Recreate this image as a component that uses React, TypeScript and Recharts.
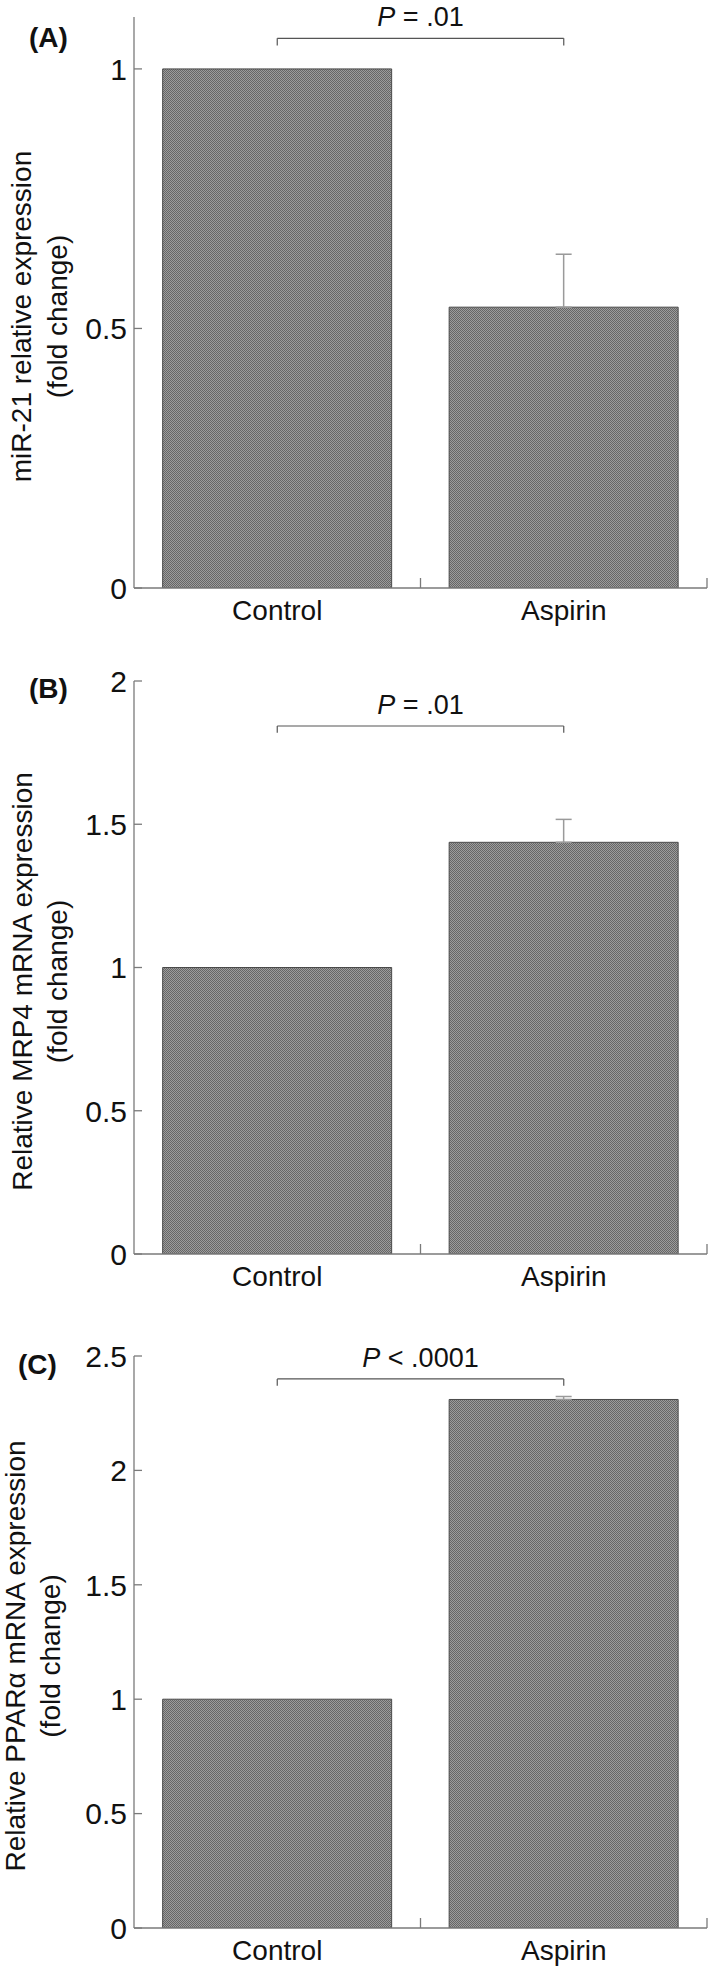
import React from 'react';
import { BarChart, Bar, XAxis, YAxis, ErrorBar, ReferenceLine } from 'recharts';

// categories shared by all three panels
const categories = ['Control', 'Aspirin'];

// (A) miR-21
const mir21Values = [1, 0.541];
const mir21Errors = [null, 0.102];
const mir21Ticks = [0, 0.5, 1];

// (B) MRP4 mRNA
const mrp4Values = [1, 1.437];
const mrp4Errors = [null, 0.08];
const mrp4Ticks = [0, 0.5, 1, 1.5, 2];

// (C) PPARα mRNA
const pparValues = [1, 2.31];
const pparErrors = [null, 0.013];
const pparTicks = [0, 0.5, 1, 1.5, 2, 2.5];

const FONT = '"Liberation Sans", Arial, Helvetica, sans-serif';
const AXIS = '#7a7a7a';
const INK = '#111';

const PAGE_W = 709;
const PLOT_LEFT = 134;
const PLOT_RIGHT = 707;
const YAXIS_W = 60;
const XAXIS_H = 40;
const HALF_BAND = (PLOT_RIGHT - PLOT_LEFT) / categories.length / 2;

const makeRows = (values: number[], errors: (number | null)[]) =>
  categories.map((name, i) => ({
    name,
    value: values[i],
    err: errors[i] == null ? null : [0, errors[i]],
  }));

const panels = [
  {
    letter: '(A)',
    letterX: 29,
    letterY: 47,
    top: 0,
    height: 640,
    plotTop: 17,
    plotBottom: 588,
    rows: makeRows(mir21Values, mir21Errors),
    ticks: mir21Ticks,
    yMax: 1.1,
    bracket: 1.059,
    drop: 0.014,
    pText: '= .01',
    yLabel: ['miR-21 relative expression', '(fold change)'],
    labelX: [31, 67],
  },
  {
    letter: '(B)',
    letterX: 29,
    letterY: 698,
    top: 640,
    height: 670,
    plotTop: 41,
    plotBottom: 614,
    rows: makeRows(mrp4Values, mrp4Errors),
    ticks: mrp4Ticks,
    yMax: 2,
    bracket: 1.843,
    drop: 0.024,
    pText: '= .01',
    yLabel: ['Relative MRP4 mRNA expression', '(fold change)'],
    labelX: [32, 67],
  },
  {
    letter: '(C)',
    letterX: 18,
    letterY: 1374,
    top: 1310,
    height: 657,
    plotTop: 46,
    plotBottom: 618,
    rows: makeRows(pparValues, pparErrors),
    ticks: pparTicks,
    yMax: 2.5,
    bracket: 2.4,
    drop: 0.03,
    pText: '< .0001',
    yLabel: ['Relative PPARα mRNA expression', '(fold change)'],
    labelX: [25, 60],
  },
];

const YTick = (props: any) => {
  const { x, y, payload } = props;
  return (
    <g>
      <line x1={x} x2={x + 8} y1={y} y2={y} stroke={AXIS} strokeWidth={1.3} />
      <text x={x - 7} y={y} dy="0.36em" textAnchor="end" fontSize={30} fontFamily={FONT} fill={INK}>
        {String(payload.value)}
      </text>
    </g>
  );
};

const XTick = (props: any) => {
  const { x, y, payload } = props;
  return (
    <g>
      <line x1={x + HALF_BAND} x2={x + HALF_BAND} y1={y} y2={y - 10} stroke={AXIS} strokeWidth={1.3} />
      <text x={x} y={y + 32} textAnchor="middle" fontSize={28} fontFamily={FONT} fill={INK}>
        {payload.value}
      </text>
    </g>
  );
};

const PLabel = (props: any) => {
  const { viewBox, text } = props;
  if (!viewBox) return null;
  const cx = viewBox.x + viewBox.width / 2;
  return (
    <text x={cx} y={viewBox.y - 12} textAnchor="middle" fontSize={27} fontFamily={FONT} fill={INK}>
      <tspan fontStyle="italic">P</tspan> {text}
    </text>
  );
};

const YLabel = (props: any) => {
  const { viewBox, lines, xs } = props;
  if (!viewBox) return null;
  const cy = viewBox.y + viewBox.height / 2 + 14;
  return (
    <g>
      {lines.map((line: string, i: number) => (
        <text
          key={line}
          x={xs[i]}
          y={cy}
          transform={`rotate(-90 ${xs[i]} ${cy})`}
          textAnchor="middle"
          fontSize={28}
          fontFamily={FONT}
          fill={INK}
        >
          {line}
        </text>
      ))}
    </g>
  );
};

function Panel({ p }: { p: (typeof panels)[number] }) {
  const bracketStroke = { stroke: '#555', strokeWidth: 1.2 };
  return (
    <div style={{ position: 'absolute', left: 0, top: p.top }}>
      <BarChart
        width={PAGE_W}
        height={p.height}
        data={p.rows}
        barCategoryGap="10%"
        margin={{
          top: p.plotTop,
          bottom: p.height - p.plotBottom - XAXIS_H,
          left: PLOT_LEFT - YAXIS_W,
          right: PAGE_W - PLOT_RIGHT,
        }}
      >
        <XAxis
          dataKey="name"
          height={XAXIS_H}
          axisLine={{ stroke: AXIS, strokeWidth: 1.3 }}
          tickLine={false}
          tickSize={0}
          tickMargin={0}
          tick={<XTick />}
          interval={0}
        />
        <YAxis
          width={YAXIS_W}
          domain={[0, p.yMax]}
          ticks={p.ticks}
          allowDataOverflow
          axisLine={{ stroke: AXIS, strokeWidth: 1.3 }}
          tickLine={false}
          tickSize={0}
          tickMargin={0}
          tick={<YTick />}
          label={(lp: any) => <YLabel {...lp} lines={p.yLabel} xs={p.labelX} />}
        />
        <Bar dataKey="value" fill="url(#grayCheck)" stroke="#4a4a4a" strokeWidth={1} isAnimationActive={false}>
          <ErrorBar dataKey="err" direction="y" width={8} stroke="#9a9a9a" strokeWidth={1.5} isAnimationActive={false} />
        </Bar>
        <ReferenceLine
          segment={[
            { x: categories[0], y: p.bracket },
            { x: categories[1], y: p.bracket },
          ]}
          {...bracketStroke}
          label={(lp: any) => <PLabel {...lp} text={p.pText} />}
        />
        <ReferenceLine
          segment={[
            { x: categories[0], y: p.bracket },
            { x: categories[0], y: p.bracket - p.drop },
          ]}
          {...bracketStroke}
        />
        <ReferenceLine
          segment={[
            { x: categories[1], y: p.bracket },
            { x: categories[1], y: p.bracket - p.drop },
          ]}
          {...bracketStroke}
        />
      </BarChart>
    </div>
  );
}

export default function App() {
  return (
    <div style={{ position: 'absolute', left: 0, top: 0, width: PAGE_W, height: 1967, background: '#fff' }}>
      <svg width={0} height={0} style={{ position: 'absolute' }}>
        <defs>
          <pattern id="grayCheck" width={2} height={2} patternUnits="userSpaceOnUse">
            <rect width={2} height={2} fill="#9c9c9c" />
            <rect width={1} height={1} fill="#666" />
            <rect x={1} y={1} width={1} height={1} fill="#666" />
          </pattern>
        </defs>
      </svg>
      {panels.map((p) => (
        <Panel key={p.letter} p={p} />
      ))}
      <svg
        width={PAGE_W}
        height={1967}
        style={{ position: 'absolute', left: 0, top: 0, pointerEvents: 'none' }}
      >
        {panels.map((p) => (
          <text key={p.letter} x={p.letterX} y={p.letterY} fontSize={28} fontWeight="bold" fontFamily={FONT} fill={INK}>
            {p.letter}
          </text>
        ))}
      </svg>
    </div>
  );
}
